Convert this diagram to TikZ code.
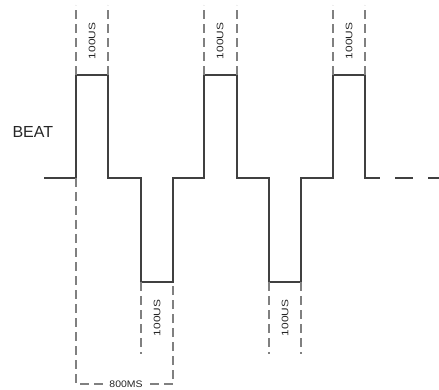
\documentclass[tikz,border=0pt]{standalone}
\usepackage{fontspec}
\setmainfont{Liberation Sans}
\begin{document}
\begin{tikzpicture}[x=1pt,y=-1pt,
  wave/.style={draw=black!75,line width=1.8pt,line join=miter},
  guide/.style={draw=black!50,line width=1.3pt,dash pattern=on 9pt off 5pt},
  lbl/.style={font=\fontsize{9.5}{9.5}\selectfont,inner sep=0.5pt,text=black!85},
  vlbl/.style={lbl,rotate=90}]
\useasboundingbox (0,0) rectangle (439,390);
% waveform coordinates
\coordinate (s) at (44,178);
\coordinate (a1) at (76,178); \coordinate (a2) at (76,75); \coordinate (a3) at (108,75); \coordinate (a4) at (108,178);
\coordinate (b1) at (141,178); \coordinate (b2) at (141,282); \coordinate (b3) at (173,282); \coordinate (b4) at (173,178);
\coordinate (c1) at (204,178); \coordinate (c2) at (204,75); \coordinate (c3) at (237,75); \coordinate (c4) at (237,178);
\coordinate (d1) at (269,178); \coordinate (d2) at (269,282); \coordinate (d3) at (301,282); \coordinate (d4) at (301,178);
\coordinate (e1) at (333,178); \coordinate (e2) at (333,75); \coordinate (e3) at (365,75); \coordinate (e4) at (365,178);
\coordinate (f) at (380,178); \coordinate (g) at (439,178);
\draw[wave] (s) -- (a1) -- (a2) -- (a3) -- (a4) -- (b1) -- (b2) -- (b3) -- (b4) -- (c1) -- (c2) -- (c3) -- (c4) -- (d1) -- (d2) -- (d3) -- (d4) -- (e1) -- (e2) -- (e3) -- (e4) -- (f);
\draw[wave,dash pattern=on 18pt off 15pt,dash phase=-15pt] (f) -- (g);
% top guides
\foreach \p/\q in {a2/a3,c2/c3,e2/e3}{
  \draw[guide] (\p) -- ++(0,-70);
  \draw[guide] (\q) -- ++(0,-70);
}
\node[vlbl] (t1) at (92,41) {\scalebox{1.25}[1]{100US}};
\node[vlbl] (t2) at (220,41) {\scalebox{1.25}[1]{100US}};
\node[vlbl] (t3) at (349,41) {\scalebox{1.25}[1]{100US}};
% bottom guides
\foreach \p in {b2,d2,d3}{ \draw[guide] (\p) -- ++(0,72); }
\node[vlbl] (u1) at (157,318) {\scalebox{1.25}[1]{100US}};
\node[vlbl] (u2) at (285,318) {\scalebox{1.25}[1]{100US}};
% 800MS
\coordinate (m1) at (76,384); \coordinate (m2) at (173,384);
\draw[guide] (a1) -- (m1) -- (m2) -- (b3);
\node[lbl,fill=white,inner xsep=6pt] (p) at (126,384) {\scalebox{1.1}[1]{800MS}};
\node[font=\fontsize{16}{16}\selectfont,text=black!85,anchor=west] (beat) at (9,132) {BEAT};
\end{tikzpicture}
\end{document}
